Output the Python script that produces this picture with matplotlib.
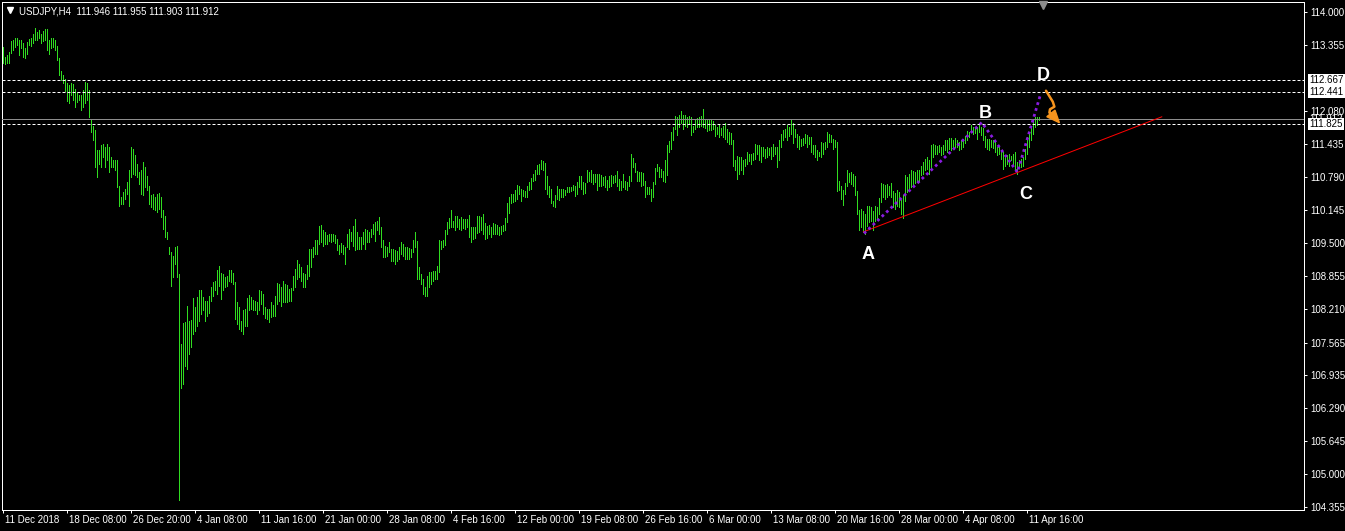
import matplotlib
matplotlib.use("Agg")
import matplotlib.pyplot as plt
import matplotlib.transforms as mtransforms
from matplotlib.lines import Line2D
import numpy as np

plt.rcParams["font.family"] = ["Liberation Sans", "DejaVu Sans"]

# H4 bar highs / lows, USDJPY (one value per bar)
highs = [
    113.32, 113.12, 113.16, 113.22, 113.44, 113.45, 113.50, 113.50, 113.46, 113.46,
    113.40, 113.29, 113.42, 113.48, 113.50, 113.58, 113.68, 113.61, 113.65, 113.58,
    113.63, 113.66, 113.66, 113.45, 113.50, 113.50, 113.46, 113.33, 113.11, 112.85,
    112.77, 112.70, 112.62, 112.57, 112.61, 112.59, 112.51, 112.44, 112.38, 112.38,
    112.48, 112.64, 112.61, 112.48, 111.92, 111.79, 111.70, 111.31, 111.31, 111.42,
    111.44, 111.37, 111.44, 111.37, 111.18, 111.11, 111.12, 111.11, 110.62, 110.40,
    110.49, 110.56, 110.69, 110.92, 111.37, 111.34, 111.21, 111.05, 110.88, 110.92,
    111.08, 110.98, 110.80, 110.62, 110.43, 110.46, 110.40, 110.46, 110.47, 110.40,
    110.14, 110.02, 109.71, 109.42, 109.32, 109.26, 109.43, 109.45, 108.90, 107.54,
    107.94, 107.96, 108.28, 107.99, 108.00, 108.43, 108.25, 108.45, 108.58, 108.58,
    108.45, 108.38, 108.38, 108.48, 108.64, 108.74, 108.77, 108.98, 109.06, 108.91,
    108.90, 108.84, 108.87, 108.98, 108.98, 108.91, 108.74, 108.35, 108.25, 107.99,
    108.19, 108.22, 108.43, 108.50, 108.46, 108.39, 108.38, 108.35, 108.58, 108.56,
    108.52, 108.25, 108.22, 108.22, 108.35, 108.30, 108.48, 108.73, 108.71, 108.64,
    108.76, 108.71, 108.69, 108.61, 108.63, 108.87, 108.99, 109.17, 109.10, 109.03,
    108.91, 108.90, 109.08, 109.39, 109.39, 109.42, 109.56, 109.56, 109.84, 109.86,
    109.75, 109.71, 109.65, 109.67, 109.67, 109.67, 109.65, 109.58, 109.47, 109.50,
    109.46, 109.42, 109.67, 109.78, 109.71, 109.84, 109.97, 109.71, 109.62, 109.63,
    109.71, 109.78, 109.75, 109.71, 109.78, 109.88, 109.91, 109.94, 110.01, 109.81,
    109.56, 109.45, 109.43, 109.52, 109.39, 109.39, 109.36, 109.34, 109.43, 109.52,
    109.49, 109.42, 109.43, 109.40, 109.39, 109.56, 109.71, 109.55, 109.03, 108.90,
    108.80, 108.65, 108.87, 108.93, 108.93, 108.95, 108.95, 109.06, 109.56, 109.55,
    109.57, 109.76, 109.91, 109.99, 110.14, 109.94, 110.02, 110.02, 109.97, 110.01,
    109.97, 109.97, 109.97, 110.04, 109.81, 109.81, 109.82, 110.02, 110.02, 110.01,
    110.07, 109.89, 109.84, 109.86, 109.81, 109.89, 109.88, 109.86, 109.82, 109.84,
    109.86, 109.99, 110.28, 110.40, 110.45, 110.45, 110.53, 110.64, 110.62, 110.56,
    110.53, 110.51, 110.62, 110.69, 110.77, 110.85, 110.92, 111.03, 111.05, 111.11,
    111.10, 111.07, 110.80, 110.62, 110.56, 110.33, 110.44, 110.62, 110.56, 110.56,
    110.56, 110.53, 110.60, 110.59, 110.60, 110.64, 110.62, 110.69, 110.80, 110.80,
    110.69, 110.67, 110.92, 110.88, 110.93, 110.84, 110.85, 110.85, 110.84, 110.82,
    110.79, 110.80, 110.73, 110.80, 110.82, 110.80, 110.82, 110.90, 110.75, 110.72,
    110.85, 110.72, 110.69, 110.80, 111.23, 111.16, 111.06, 110.90, 110.88, 110.88,
    110.86, 110.72, 110.60, 110.60, 110.56, 110.69, 110.97, 111.05, 110.98, 110.95,
    110.90, 111.11, 111.42, 111.49, 111.66, 111.76, 111.97, 111.96, 111.99, 112.07,
    111.99, 111.99, 111.96, 111.97, 111.96, 111.79, 111.92, 111.94, 111.96, 111.97,
    112.12, 111.92, 111.90, 111.89, 111.90, 111.88, 111.81, 111.77, 111.81, 111.75,
    111.79, 111.83, 111.73, 111.66, 111.64, 111.51, 111.11, 111.19, 111.18, 111.18,
    111.12, 111.14, 111.27, 111.24, 111.23, 111.25, 111.44, 111.42, 111.42, 111.37,
    111.38, 111.34, 111.37, 111.36, 111.38, 111.44, 111.38, 111.37, 111.50, 111.62,
    111.71, 111.73, 111.81, 111.77, 111.89, 111.83, 111.73, 111.62, 111.58, 111.53,
    111.55, 111.62, 111.60, 111.57, 111.57, 111.42, 111.42, 111.32, 111.27, 111.47,
    111.45, 111.47, 111.66, 111.63, 111.60, 111.53, 111.50, 111.47, 110.72, 110.62,
    110.53, 110.67, 110.93, 110.86, 110.88, 110.84, 110.80, 110.51, 110.15, 110.17,
    110.12, 110.07, 110.23, 110.23, 110.20, 110.12, 110.23, 110.20, 110.38, 110.67,
    110.66, 110.64, 110.66, 110.62, 110.67, 110.51, 110.47, 110.53, 110.49, 110.34,
    110.43, 110.82, 110.79, 110.85, 110.92, 110.90, 110.88, 110.93, 110.92, 111.01,
    111.08, 111.14, 111.18, 111.11, 111.42, 111.44, 111.42, 111.40, 111.42, 111.38,
    111.42, 111.50, 111.51, 111.55, 111.55, 111.50, 111.55, 111.50, 111.47, 111.50,
    111.53, 111.58, 111.68, 111.66, 111.81, 111.77, 111.77, 111.77, 111.83, 111.76,
    111.75, 111.58, 111.53, 111.53, 111.51, 111.51, 111.50, 111.37, 111.37, 111.31,
    111.27, 111.18, 111.21, 111.23, 111.19, 111.24, 111.27, 111.08, 111.12, 111.14,
    111.18, 111.34, 111.57, 111.66, 111.77, 111.89, 111.96, 111.96, 111.955,
]
lows = [
    113.01, 112.98, 113.00, 113.00, 113.20, 113.26, 113.32, 113.35, 113.16, 113.29,
    113.12, 113.11, 113.19, 113.35, 113.33, 113.39, 113.46, 113.45, 113.50, 113.40,
    113.44, 113.45, 113.27, 113.19, 113.29, 113.32, 113.27, 113.07, 112.77, 112.68,
    112.62, 112.46, 112.27, 112.23, 112.38, 112.28, 112.15, 112.25, 112.28, 112.09,
    112.15, 112.22, 112.29, 111.96, 111.66, 111.50, 110.98, 110.79, 111.05, 110.98,
    111.18, 110.98, 111.11, 110.88, 110.98, 110.98, 110.92, 110.59, 110.23, 110.27,
    110.27, 110.36, 110.46, 110.23, 110.79, 110.85, 110.82, 110.79, 110.66, 110.46,
    110.43, 110.59, 110.53, 110.27, 110.20, 110.17, 110.14, 110.10, 110.17, 110.01,
    109.78, 109.62, 109.58, 109.29, 108.67, 108.84, 109.10, 108.84, 104.51, 106.69,
    106.76, 107.11, 107.05, 107.34, 107.47, 107.73, 107.80, 107.89, 107.99, 108.12,
    108.19, 107.99, 108.09, 108.15, 108.38, 108.48, 108.58, 108.51, 108.67, 108.41,
    108.58, 108.64, 108.67, 108.77, 108.74, 108.71, 108.02, 107.93, 107.83, 107.80,
    107.74, 107.89, 107.89, 108.19, 108.22, 108.19, 108.19, 108.12, 108.19, 108.32,
    108.12, 108.04, 108.02, 107.96, 108.06, 108.09, 108.09, 108.32, 108.38, 108.28,
    108.35, 108.35, 108.35, 108.38, 108.38, 108.58, 108.64, 108.80, 108.84, 108.77,
    108.65, 108.65, 108.80, 108.87, 109.03, 109.23, 109.29, 109.29, 109.49, 109.52,
    109.45, 109.49, 109.49, 109.55, 109.52, 109.55, 109.50, 109.36, 109.29, 109.32,
    109.29, 109.10, 109.43, 109.39, 109.54, 109.45, 109.36, 109.39, 109.39, 109.39,
    109.49, 109.39, 109.52, 109.52, 109.62, 109.68, 109.55, 109.75, 109.68, 109.42,
    109.23, 109.24, 109.26, 109.32, 109.16, 109.16, 109.10, 109.16, 109.19, 109.29,
    109.26, 109.19, 109.19, 109.19, 109.23, 109.32, 109.42, 108.80, 108.80, 108.71,
    108.51, 108.48, 108.48, 108.64, 108.71, 108.76, 108.80, 108.80, 108.93, 109.39,
    109.42, 109.47, 109.68, 109.80, 109.81, 109.81, 109.75, 109.81, 109.78, 109.76,
    109.80, 109.78, 109.81, 109.62, 109.52, 109.58, 109.60, 109.69, 109.71, 109.75,
    109.68, 109.58, 109.60, 109.68, 109.63, 109.68, 109.68, 109.68, 109.65, 109.68,
    109.73, 109.75, 109.91, 110.08, 110.28, 110.30, 110.33, 110.36, 110.46, 110.33,
    110.41, 110.40, 110.40, 110.53, 110.56, 110.72, 110.73, 110.85, 110.85, 110.95,
    110.92, 110.56, 110.46, 110.40, 110.28, 110.23, 110.21, 110.36, 110.34, 110.40,
    110.40, 110.43, 110.49, 110.49, 110.51, 110.53, 110.41, 110.46, 110.60, 110.56,
    110.46, 110.47, 110.69, 110.72, 110.69, 110.66, 110.69, 110.54, 110.62, 110.62,
    110.64, 110.59, 110.53, 110.59, 110.62, 110.67, 110.69, 110.62, 110.53, 110.53,
    110.59, 110.56, 110.53, 110.62, 110.72, 110.98, 110.88, 110.72, 110.72, 110.62,
    110.64, 110.40, 110.46, 110.45, 110.33, 110.40, 110.66, 110.90, 110.79, 110.79,
    110.72, 110.69, 110.82, 111.27, 111.34, 111.51, 111.73, 111.60, 111.77, 111.84,
    111.73, 111.79, 111.76, 111.83, 111.60, 111.66, 111.73, 111.76, 111.76, 111.79,
    111.76, 111.75, 111.68, 111.71, 111.70, 111.73, 111.58, 111.63, 111.57, 111.60,
    111.57, 111.53, 111.47, 111.44, 111.44, 111.01, 110.92, 110.75, 110.85, 110.92,
    110.85, 111.01, 111.05, 111.10, 111.05, 111.11, 111.14, 111.24, 111.11, 111.08,
    111.19, 111.16, 111.18, 111.21, 111.14, 111.19, 111.24, 110.98, 111.12, 111.37,
    111.50, 111.57, 111.50, 111.58, 111.63, 111.45, 111.57, 111.37, 111.34, 111.40,
    111.42, 111.45, 111.38, 111.44, 111.27, 111.24, 111.18, 111.12, 111.19, 111.18,
    111.24, 111.34, 111.38, 111.47, 111.47, 111.34, 111.37, 110.51, 110.53, 110.36,
    110.25, 110.46, 110.62, 110.69, 110.66, 110.62, 110.43, 110.07, 109.75, 109.81,
    109.71, 109.68, 109.84, 109.91, 109.94, 109.75, 109.94, 109.97, 110.07, 110.30,
    110.40, 110.36, 110.40, 110.43, 110.40, 110.20, 110.17, 110.23, 110.20, 110.07,
    109.99, 110.33, 110.49, 110.53, 110.59, 110.62, 110.67, 110.69, 110.72, 110.82,
    110.85, 110.92, 110.95, 110.85, 110.95, 111.18, 111.24, 111.23, 111.27, 111.21,
    111.23, 111.32, 111.27, 111.34, 111.32, 111.36, 111.37, 111.37, 111.32, 111.34,
    111.37, 111.45, 111.51, 111.57, 111.66, 111.63, 111.64, 111.53, 111.66, 111.60,
    111.50, 111.37, 111.34, 111.32, 111.37, 111.36, 111.27, 111.21, 111.24, 111.14,
    110.95, 111.01, 111.05, 111.01, 111.11, 111.05, 110.95, 110.85, 110.98, 110.98,
    111.01, 111.14, 111.24, 111.37, 111.50, 111.63, 111.76, 111.81, 111.903,
]

date_labels = [
    "11 Dec 2018", "18 Dec 08:00", "26 Dec 20:00", "4 Jan 08:00", "11 Jan 16:00",
    "21 Jan 00:00", "28 Jan 08:00", "4 Feb 16:00", "12 Feb 00:00", "19 Feb 08:00",
    "26 Feb 16:00", "6 Mar 00:00", "13 Mar 08:00", "20 Mar 16:00", "28 Mar 00:00",
    "4 Apr 08:00", "11 Apr 16:00",
]
bars_per_label = 32

price_ticks = [114.000, 113.355, 112.080, 111.435, 110.790, 110.145, 109.500,
               108.855, 108.210, 107.565, 106.935, 106.290, 105.645, 105.000, 104.355]

levels = [112.667, 112.441, 111.825]  # dashed horizontal lines
bid = 111.912
title = "USDJPY,H4  111.946 111.955 111.903 111.912"

# ABCD pattern (bar index, price)
wave_x = [430.3, 489.2, 507.0, 518.6]
wave_y = [109.69, 111.85, 110.88, 112.40]
wave_names = ["A", "B", "C", "D"]
name_x = [432.5, 490.8, 511.2, 519.7]
name_y = [109.28, 112.02, 110.44, 112.77]

trend_x = [430.0, 579.2]
trend_y = [109.72, 111.96]

arrow_x = [521.3, 524.7, 525.5, 523.3, 523.0, 524.7]
arrow_y = [112.468, 112.254, 112.157, 112.106, 112.04, 112.015]
head_x = [528.0, 521.7, 525.8]
head_y = [111.845, 111.962, 112.09]

BAR = "#30dc20"
PURPLE = "#8a1be0"
ORANGE = "#f7941d"

W, H = 1345, 531
fig = plt.figure(figsize=(W / 100, H / 100), dpi=100, facecolor="black")
ax = fig.add_axes([2 / W, 21 / H, 1302 / W, 508 / H], facecolor="black")

n = min(len(highs), len(lows))
x = np.arange(n)
ax.vlines(x, lows[:n], highs[:n], colors=BAR, linewidth=0.72,
          antialiased=False, zorder=2)

ax.set_xlim(-0.665, 650.3)
ax.set_ylim(104.306, 114.195)

for sp in ax.spines.values():
    sp.set_color("white")
    sp.set_linewidth(0.72)

# levels
for v in levels:
    ax.axhline(v, color="white", lw=0.72, ls=(0, (3, 2)), zorder=3)
ax.axhline(bid, color="#8c8c8c", lw=0.72, zorder=3)

# trend line and pattern
ax.plot(trend_x, trend_y, color="#ff0000", lw=0.72, zorder=4)
ax.plot(wave_x, wave_y, color=PURPLE, lw=2.0, ls=(0, (1, 1.2)),
        dash_capstyle="butt", zorder=5)
for nm, lx, ly in zip(wave_names, name_x, name_y):
    ax.text(lx, ly, nm, color="white", fontsize=13, fontweight="bold",
            ha="center", va="center", zorder=6)
ax.plot(arrow_x, arrow_y, color=ORANGE, lw=1.8, solid_capstyle="round",
        solid_joinstyle="round", zorder=6)
ax.fill(head_x, head_y, color=ORANGE, zorder=6)

# y axis on the right
ax.yaxis.tick_right()
ax.set_yticks(price_ticks)
ax.set_yticklabels([f"{v:.3f}" for v in price_ticks])
ax.tick_params(axis="y", colors="white", length=2.2, width=0.72, labelsize=7,
               pad=2, direction="out")

lab_tr = mtransforms.blended_transform_factory(ax.transAxes, ax.transData)
ax.text(1.0042, bid, f"{bid:.3f}", transform=lab_tr, color="white", fontsize=7,
        ha="left", va="center", clip_on=False, zorder=9)
for v in levels:
    ax.text(1.0042, v, f"{v:.3f}", transform=lab_tr, color="black", fontsize=7,
            ha="left", va="center", clip_on=False, zorder=10,
            bbox=dict(boxstyle="square,pad=0.12", fc="white", ec="white", lw=0))

# x axis
ax.set_xticks([bars_per_label * k for k in range(len(date_labels))])
ax.set_xticklabels(date_labels, ha="left")
ax.tick_params(axis="x", colors="white", length=2.2, width=0.72, labelsize=7,
               pad=1.5, direction="out")
shift = mtransforms.ScaledTranslation(2 / 100, 0, fig.dpi_scale_trans)
for lab in ax.get_xticklabels():
    lab.set_transform(lab.get_transform() + shift)

# header and chart-shift marker
fig.text(19 / W, 1 - 11 / H, title, color="white", fontsize=7, va="center")
fig.add_artist(Line2D([10 / W], [1 - 10 / H], marker="v", markersize=4.5,
                      color="white", transform=fig.transFigure))
fig.add_artist(Line2D([1042.5 / W], [1 - 4.5 / H], marker="v", markersize=6,
                      color="#8c8c8c", transform=fig.transFigure))

fig.savefig("out.png", dpi=100, facecolor="black")
